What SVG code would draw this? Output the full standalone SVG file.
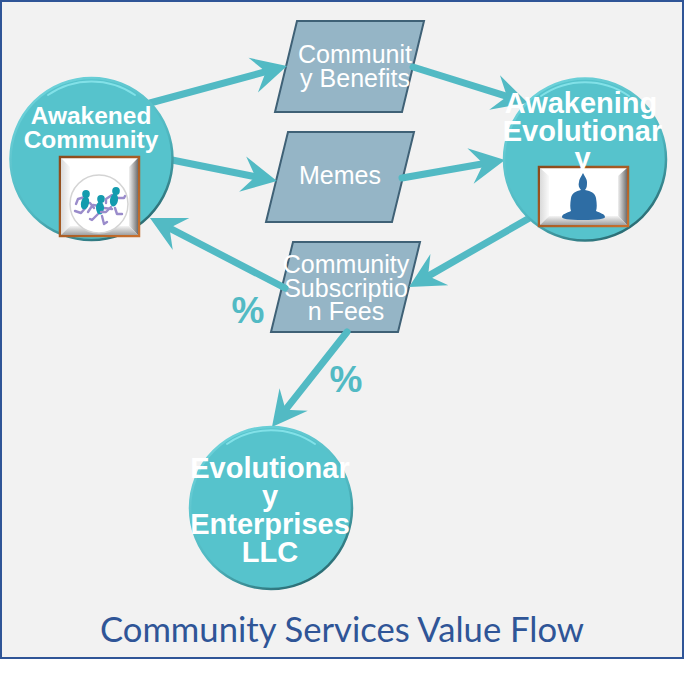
<svg xmlns="http://www.w3.org/2000/svg" width="684" height="675" viewBox="0 0 684 675">
<style>
.para{fill:#95B5C6;stroke:#3F6176;stroke-width:2}
.pt{font-family:"Liberation Sans",Arial,sans-serif;font-size:25px;fill:#fff;text-anchor:middle}
.ct{font-family:"Liberation Sans",Arial,sans-serif;font-weight:bold;fill:#fff;text-anchor:middle}
.pc{font-family:"Liberation Sans",Arial,sans-serif;font-weight:bold;font-size:37px;fill:#52BAC4;text-anchor:middle}
.disc{fill:#56C3CC;stroke:url(#rim);stroke-width:2.5}
.hl{fill:none;stroke:#8AE6EC;stroke-width:2;stroke-linecap:round;opacity:.85}
.c{fill:none;stroke:#52BAC4;stroke-width:7;stroke-linecap:round}
.fr{fill:#fff;stroke:url(#frameEdge);stroke-width:2.5}
.limb{fill:none;stroke:#9A8CCB;stroke-width:2.4;stroke-linecap:round;stroke-linejoin:round}
.body{fill:#149BAE}
</style>
<defs>
<linearGradient id="rim" x1="0.2" y1="0" x2="0.8" y2="1">
<stop offset="0" stop-color="#6FD4DC"/><stop offset="0.6" stop-color="#4FB7C0"/><stop offset="1" stop-color="#245F66"/>
</linearGradient>
<linearGradient id="frameEdge" x1="0" y1="0" x2="1" y2="1">
<stop offset="0" stop-color="#8A4A1C"/><stop offset="1" stop-color="#C8702E"/>
</linearGradient>
<linearGradient id="bevB" x1="0" y1="0" x2="0" y2="1">
<stop offset="0" stop-color="#F4F4F4"/><stop offset="1" stop-color="#A0A0A0"/>
</linearGradient>
<linearGradient id="bevR" x1="0" y1="0" x2="1" y2="0">
<stop offset="0" stop-color="#F0F0F0"/><stop offset="1" stop-color="#6E6E6E"/>
</linearGradient>
<linearGradient id="bevL" x1="0" y1="0" x2="1" y2="0">
<stop offset="0" stop-color="#DADADA"/><stop offset="1" stop-color="#FAFAFA"/>
</linearGradient>
<marker id="head" markerUnits="userSpaceOnUse" markerWidth="42" markerHeight="38" refX="16" refY="18" orient="auto" overflow="visible">
<path d="M3 0L38 18L3 36L16 18Z" fill="#52BAC4"/>
</marker>
</defs>

<rect x="1" y="1" width="682" height="657" fill="#F2F2F2" stroke="#2F5597" stroke-width="2"/>

<g id="node-community-benefits">
<polygon class="para" points="297,21 424,21 402,112 275,112"/>
<text class="pt" x="355" y="63">Communit</text>
<text class="pt" x="355" y="87">y Benefits</text>
</g>
<g id="node-memes">
<polygon class="para" points="288,132 414,132 392,222 266,222"/>
<text class="pt" x="340" y="184">Memes</text>
</g>
<g id="node-subscription-fees">
<polygon class="para" points="293,242 420,242 398,332 271,332"/>
<text class="pt" x="346" y="273">Community</text>
<text class="pt" x="346" y="297">Subscriptio</text>
<text class="pt" x="346" y="320">n Fees</text>
</g>

<g id="connectors">
<path class="c" marker-end="url(#head)" d="M150 103L265.8 71.7"/>
<path class="c" marker-end="url(#head)" d="M172 160L255.4 176.7"/>
<path class="c" marker-end="url(#head)" d="M413 67L507 96.4"/>
<path class="c" marker-end="url(#head)" d="M402 178L483.3 163.7"/>
<path class="c" marker-end="url(#head)" d="M533 216L428.1 276.1"/>
<path class="c" marker-end="url(#head)" d="M285 288L169.5 228.1"/>
<path class="c" marker-end="url(#head)" d="M347 332L285.6 409.7"/>
</g>

<g id="node-awakened-community">
<circle class="disc" cx="91.5" cy="159" r="81"/>
<path class="hl" d="M48 95A77 77 0 0 1 135 95"/>
<text class="ct" font-size="24.5" x="91" y="124">Awakened</text>
<text class="ct" font-size="24.5" x="91" y="148">Community</text>
<rect class="fr" x="60" y="157" width="79" height="79"/>
<polygon points="61,158 70,167 70,226 61,235" fill="url(#bevL)"/>
<polygon points="138,158 129,167 129,226 138,235" fill="url(#bevR)"/>
<polygon points="61,235 70,226 129,226 138,235" fill="url(#bevB)"/>
<circle cx="99" cy="204" r="29" fill="#fff" stroke="#D4D4D4" stroke-width="1.5"/>
<path class="limb" d="M85 197L78 199L76 204M87 206L81 213L75 211M90 203L94 208M92 206L88 212"/>
<ellipse class="body" cx="86" cy="194" rx="3.8" ry="4"/><ellipse class="body" cx="85" cy="203" rx="4" ry="6.5" transform="rotate(15 85 203)"/>
<path class="limb" d="M100 206L93 205M98 214L92 220L90 219M102 216L104 224L107 222M104 208L112 209"/>
<ellipse class="body" cx="101" cy="199" rx="3.8" ry="4"/><ellipse class="body" cx="100" cy="208" rx="4" ry="6.5"/>
<path class="limb" d="M112 195L106 199L106 203M111 207L106 212L101 212M115 208L117 214L122 214M118 198L124 198L125 196"/>
<ellipse class="body" cx="116" cy="191" rx="3.8" ry="4"/><ellipse class="body" cx="114" cy="200" rx="4" ry="6.5" transform="rotate(10 114 200)"/>
</g>

<g id="node-awakening-evolutionary">
<circle class="disc" cx="585" cy="159.5" r="81"/>
<path class="hl" d="M541 96A77 77 0 0 1 629 96"/>
<rect class="fr" x="539" y="167" width="89" height="59"/>
<polygon points="540,168 549,176 549,216 540,225" fill="url(#bevL)"/>
<polygon points="627,168 618,176 618,216 627,225" fill="url(#bevR)"/>
<polygon points="540,225 549,216 618,216 627,225" fill="url(#bevB)"/>
<path d="M583 173C585 177 587 179 587 182C587 185 587 188 585 190C591 191 595 193 596 198C597 204 597 208 596 211C600 213 605 214 605 217C605 219 598 220 583 220C568 220 562 219 562 217C562 214 567 213 571 211C570 208 570 204 571 198C572 193 576 191 581 190C579 188 578 185 579 182C579 179 581 177 583 173Z" fill="#2E6DA4"/>
<text class="ct" font-size="29" x="581" y="113">Awakening</text>
<text class="ct" font-size="29" x="582.5" y="141">Evolutionar</text>
<text class="ct" font-size="29" x="582.5" y="168">y</text>
</g>

<g id="node-evolutionary-enterprises">
<circle class="disc" cx="271" cy="508" r="81"/>
<path class="hl" d="M227 444A77 77 0 0 1 315 444"/>
<text class="ct" font-size="29" x="270" y="478">Evolutionar</text>
<text class="ct" font-size="29" x="270" y="506">y</text>
<text class="ct" font-size="29" x="270" y="534">Enterprises</text>
<text class="ct" font-size="29" x="270" y="562">LLC</text>
</g>

<text class="pc" x="248" y="323">%</text>
<text class="pc" x="346" y="392">%</text>
<text x="100" y="642" font-family="Lato,'Open Sans',sans-serif" font-size="35" fill="#2F5597" textLength="484" lengthAdjust="spacingAndGlyphs">Community Services Value Flow</text>
</svg>
